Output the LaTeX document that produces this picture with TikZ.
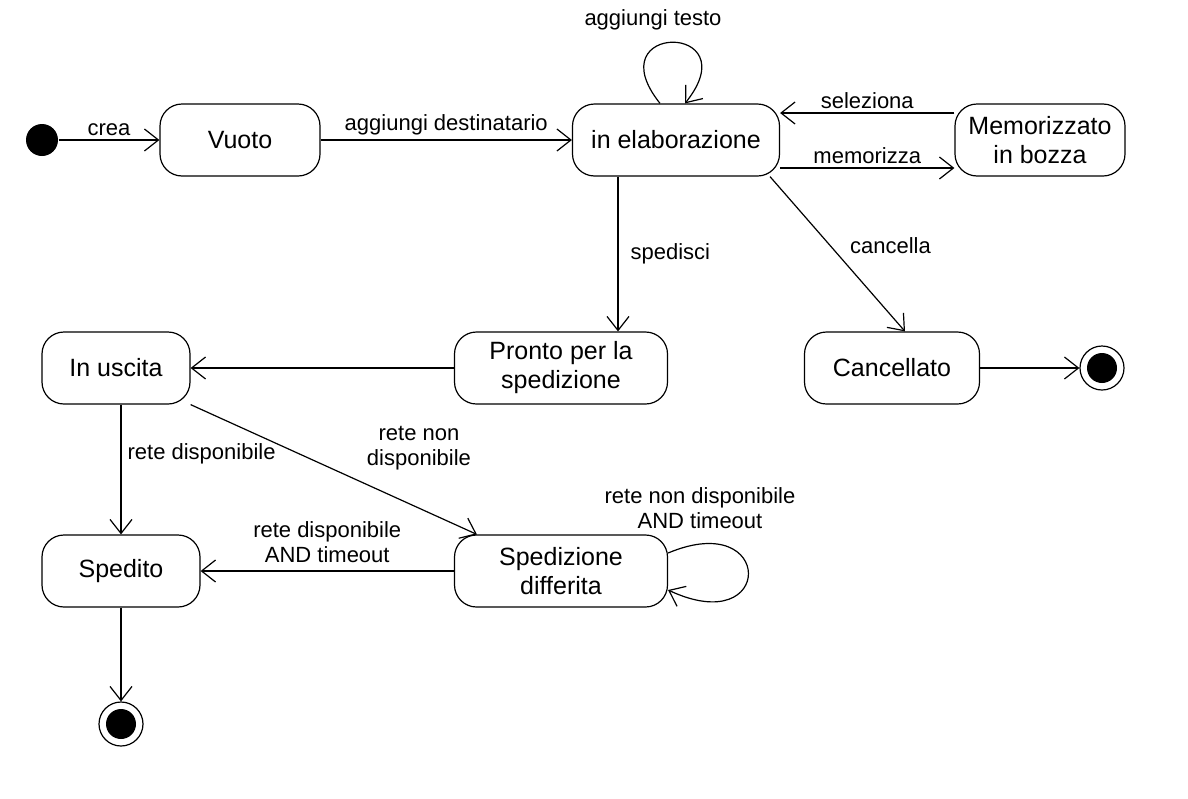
\documentclass[tikz,border=0pt]{standalone}
\usepackage{fontspec}
\setmainfont{Liberation Sans}
\usetikzlibrary{arrows.meta}
\begin{document}
\begin{tikzpicture}[x=0.5pt,y=-0.5pt,
  line width=0.6pt,
  >={Straight Barb[length=7pt,width=11pt,line width=0.6pt]},
  state/.style={draw, rounded corners=11pt, minimum height=36pt, align=center,
    inner sep=2pt, font=\fontsize{12.5}{14.5}\selectfont},
  lbl/.style={font=\fontsize{11}{12.5}\selectfont, align=center, inner sep=2pt},
  initst/.style={circle, fill=black, minimum size=16pt, inner sep=0pt},
  finst/.style={circle, draw, minimum size=22pt, inner sep=0pt}
]
\useasboundingbox (0,0) rectangle (1188,798);

% states
\node[initst] (init) at (42,140) {};
\node[state, minimum width=80pt] (vuoto) at (240,140) {Vuoto};
\node[state, minimum width=103.5pt] (elab) at (676,140) {in elaborazione};
\node[state, minimum width=85pt] (memo) at (1040,140) {Memorizzato\\in bozza};
\node[state, minimum width=106.5pt] (pronto) at (561,368) {Pronto per la\\spedizione};
\node[state, minimum width=87.5pt] (canc) at (892,368) {Cancellato};
\node[finst] (fin1) at (1102,368) {};
\fill (fin1.center) circle (7.5pt);
\node[state, minimum width=74pt] (uscita) at (116,368) {In uscita};
\node[state, minimum width=79pt] (spedito) at (121,571) {Spedito};
\node[state, minimum width=106.5pt] (differ) at (561,571) {Spedizione\\differita};
\node[finst] (fin2) at (121,724) {};
\fill (fin2.center) circle (7.5pt);

% transitions
\draw[->] (init) -- node[lbl, above] {crea} (vuoto);
\draw[->] (vuoto) -- node[lbl, above] {aggiungi destinatario} (elab);
\draw[->] ([xshift=-8pt]elab.north) .. controls (595,22) and (750,22) .. ([xshift=4.5pt]elab.north);
\node[lbl] (lloop1) at (653,20) {aggiungi testo};
\draw[->] ([yshift=13.5pt]memo.west) -- node[lbl, above] {seleziona} ([yshift=13.5pt]elab.east);
\draw[->] ([yshift=-14pt]elab.east) -- node[lbl, above] {memorizza} ([yshift=-14pt]memo.west);
\draw[->] ([xshift=-29pt]elab.south) -- node[lbl, right, xshift=4pt] {spedisci} ([xshift=-29pt]elab.south |- pronto.north);
\draw[->] ([xshift=47pt]elab.south) -- node[lbl, right, xshift=4pt, yshift=4pt] {cancella} ([xshift=6.5pt]canc.north);
\draw[->] (pronto) -- (uscita);
\draw[->] (canc) -- (fin1);
\draw[->] (uscita.south -| spedito.north) -- node[lbl, pos=0.38, right, xshift=1pt] {rete disponibile} (spedito.north);
\draw[->] (uscita.south east) -- node[lbl, pos=0.6, anchor=south west, xshift=0pt, yshift=4pt] {rete non\\disponibile} ([xshift=11.5pt]differ.north west);
\draw[->] (differ) -- node[lbl, above, yshift=2pt] {rete disponibile\\AND timeout} (spedito);
\draw[->] ([yshift=9pt]differ.east) .. controls (775,508) and (775,640) .. ([yshift=-9.5pt]differ.east);
\node[lbl] (lloop2) at (700,508) {rete non disponibile\\AND timeout};
\draw[->] (spedito) -- (fin2);
\end{tikzpicture}
\end{document}
